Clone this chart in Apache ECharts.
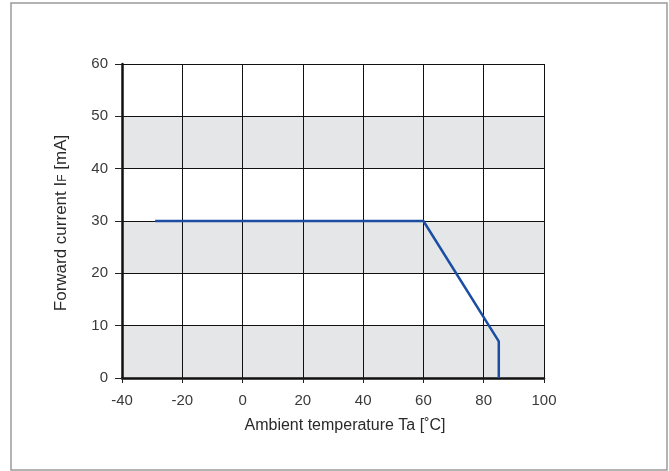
<!DOCTYPE html>
<html><head><meta charset="utf-8">
<script src="https://cdn.jsdelivr.net/npm/echarts@6/dist/echarts.min.js"></script>
<style>html,body{margin:0;padding:0;background:#fff}#c{width:669px;height:471px}</style>
</head><body><div id="c"></div>
<script>
const temps = [-29, 60, 85, 85];
const currents = [30, 30, 7, 0];
const xTicks = [-40, 100, 20];
const yTicks = [0, 60, 10];
const xName = 'Ambient temperature Ta [˚C]';
const yName = 'Forward current I{s|F} [mA]';

const chart = echarts.init(document.getElementById('c'), null, {renderer: 'canvas'});
const font = '"Liberation Sans", Arial, sans-serif';
chart.setOption({
  animation: false,
  backgroundColor: '#fff',
  graphic: [{
    type: 'rect', shape: {x: 11, y: 3, width: 656, height: 467},
    style: {fill: 'none', stroke: '#9a9a9a', lineWidth: 1.5}, silent: true
  }],
  grid: {left: 122, right: 125, top: 64, bottom: 93},
  xAxis: {
    type: 'value', min: xTicks[0], max: xTicks[1], interval: xTicks[2],
    name: xName, nameLocation: 'middle', nameGap: 40,
    nameTextStyle: {fontFamily: font, fontSize: 16, color: '#2a2a2a', padding: [0, 0, 0, 24]},
    axisLine: {show: true, onZero: false, lineStyle: {color: '#111', width: 2.5}},
    axisTick: {show: true, length: 5, lineStyle: {color: '#222', width: 1}},
    axisLabel: {fontFamily: font, fontSize: 15, color: '#3a3a3a', margin: 15},
    splitLine: {show: true, lineStyle: {color: '#111', width: 1}}
  },
  yAxis: {
    type: 'value', min: yTicks[0], max: yTicks[1], interval: yTicks[2],
    name: yName, nameLocation: 'middle', nameGap: 52, nameRotate: 90,
    nameTextStyle: {fontFamily: font, fontSize: 17, color: '#2a2a2a', padding: [0, 4, 0, 0],
      rich: {s: {fontFamily: font, fontSize: 12, color: '#2a2a2a', padding: [3, 0, 0, 0]}}},
    axisLine: {show: true, onZero: false, lineStyle: {color: '#111', width: 2.5}},
    axisTick: {show: true, length: 7, lineStyle: {color: '#222', width: 1}},
    axisLabel: {fontFamily: font, fontSize: 15, color: '#3a3a3a', margin: 14},
    splitLine: {show: true, lineStyle: {color: '#111', width: 1}},
    splitArea: {show: true, areaStyle: {color: ['#e5e6e7', '#ffffff']}}
  },
  series: [{
    type: 'line',
    data: temps.map((t, i) => [t, currents[i]]),
    symbol: 'none',
    lineStyle: {color: '#1b4ea3', width: 2.5},
    z: 5
  }]
});
</script></body></html>
